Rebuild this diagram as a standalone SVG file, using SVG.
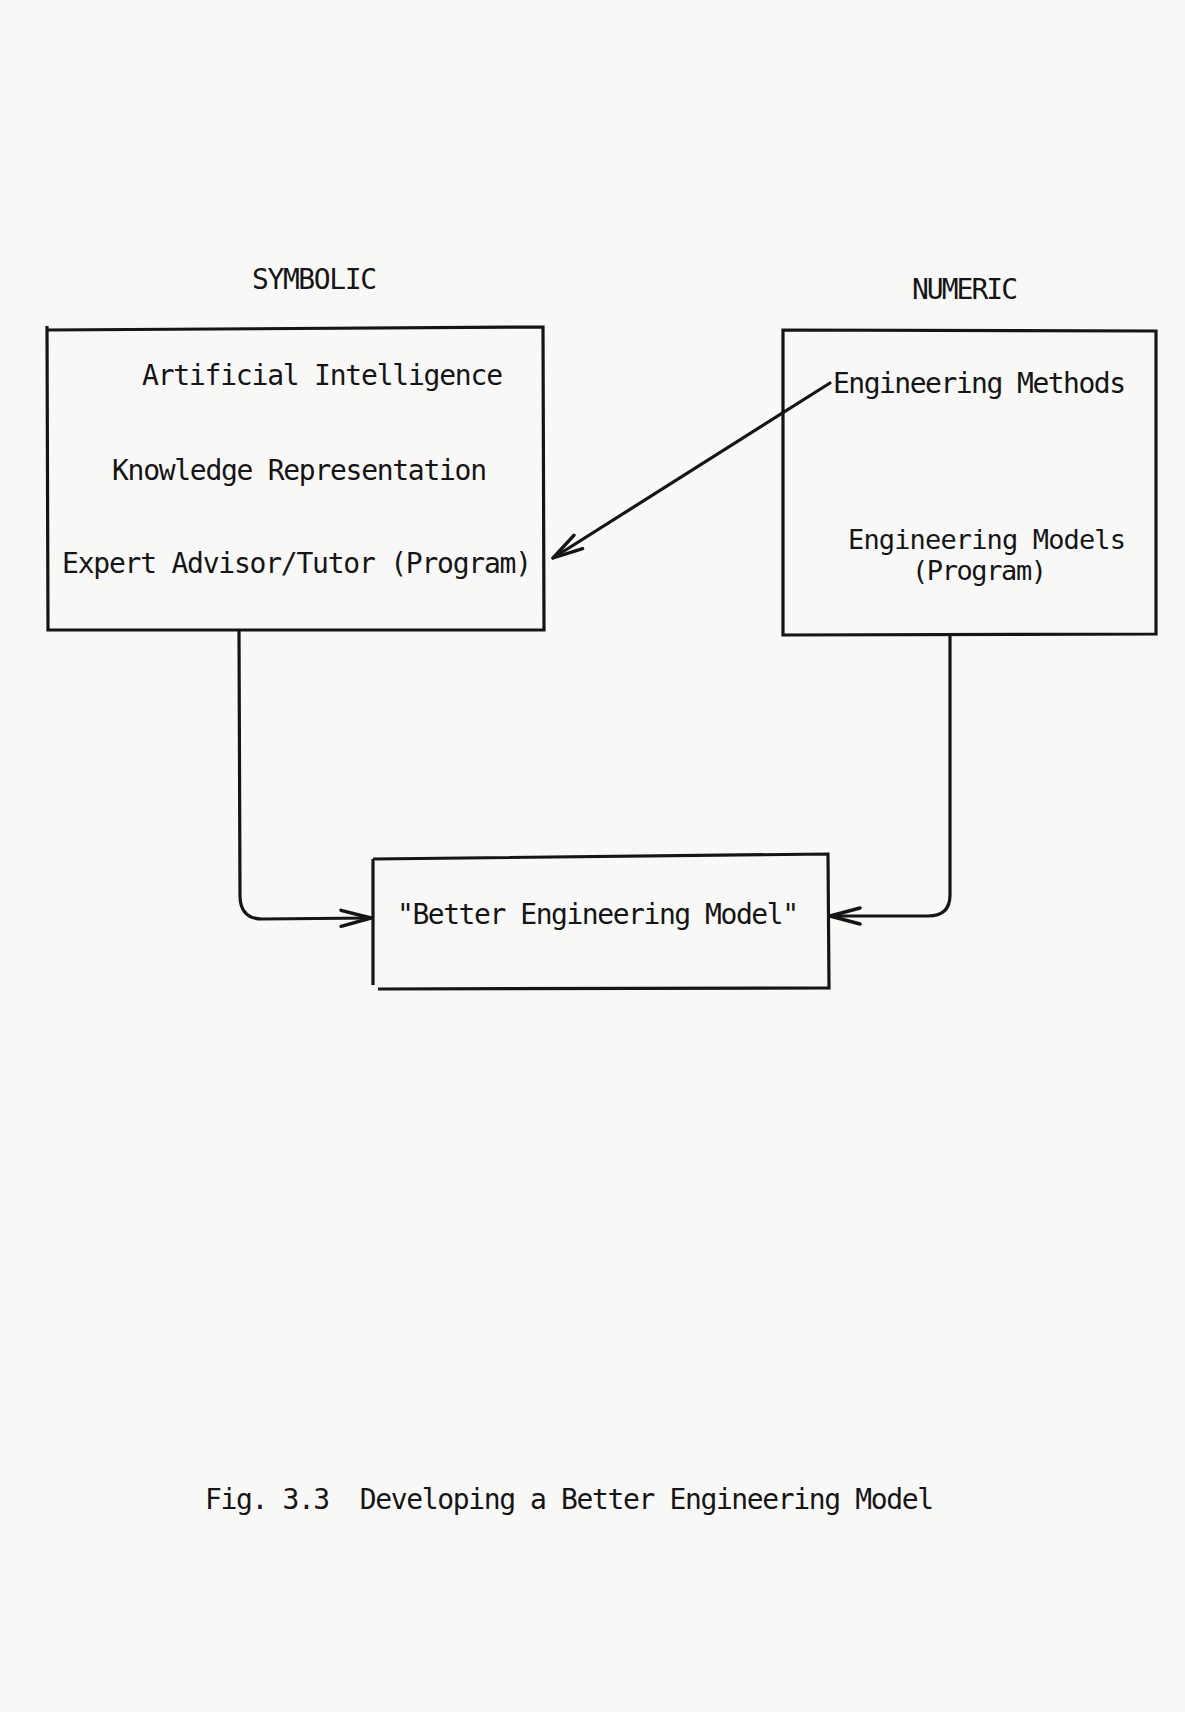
<svg xmlns="http://www.w3.org/2000/svg" width="1185" height="1712" viewBox="0 0 1185 1712">
<style>
.t{font-family:"DejaVu Sans Mono","Liberation Mono",monospace;font-size:28px;fill:#151515}
.s{font-size:27px}
.b{fill:none;stroke:#151515;stroke-width:3.2;stroke-linejoin:miter}
.c{fill:none;stroke:#151515;stroke-width:3.2;stroke-linecap:round;stroke-linejoin:round}
</style>
<defs>
<marker id="ah" markerUnits="userSpaceOnUse" markerWidth="40" markerHeight="30" refX="0" refY="0" viewBox="-34 -15 40 30" orient="auto" overflow="visible">
<path d="M-30,-8 L0,0 L-30,8" fill="none" stroke="#151515" stroke-width="3.4" stroke-linecap="round" stroke-linejoin="round"/>
</marker>
</defs>
<rect width="1185" height="1712" fill="#f8f8f6"/>
<text class="t" x="252" y="289" textLength="125" lengthAdjust="spacing">SYMBOLIC</text>
<text class="t" x="912" y="299" textLength="106" lengthAdjust="spacing">NUMERIC</text>
<g id="symbolic">
<path class="b" d="M47,326 L47,330 L543,327 L544,630 L48,630 Z"/>
<text class="t" x="142" y="385" textLength="361" lengthAdjust="spacing">Artificial Intelligence</text>
<text class="t" x="112" y="480" textLength="375" lengthAdjust="spacing">Knowledge Representation</text>
<text class="t" x="62" y="573" textLength="470" lengthAdjust="spacing">Expert Advisor/Tutor (Program)</text>
</g>
<g id="numeric">
<path class="b" d="M783,330 L1156,331 L1156,634 L783,635 Z"/>
<text class="t" x="833" y="393" textLength="293" lengthAdjust="spacing">Engineering Methods</text>
<text class="t s" x="848" y="549" textLength="278" lengthAdjust="spacing">Engineering Models</text>
<text class="t s" x="912" y="580" textLength="135" lengthAdjust="spacing">(Program)</text>
</g>
<g id="better">
<path class="b" d="M373,859 L828,854 L829,988 L378,989 M373,859 L373,985"/>
<text class="t" x="397" y="924" textLength="402" lengthAdjust="spacing">"Better Engineering Model"</text>
</g>
<g id="connectors">
<path class="c" d="M830,383 L553,558" marker-end="url(#ah)"/>
<path class="c" d="M239,631 L240,897 Q241,919 262,919 L371,918" marker-end="url(#ah)"/>
<path class="c" d="M950,636 L950,895 Q950,916 928,916 L830,916" marker-end="url(#ah)"/>
</g>
<text class="t" x="205" y="1509" textLength="729" lengthAdjust="spacing" xml:space="preserve">Fig. 3.3  Developing a Better Engineering Model</text>
</svg>
